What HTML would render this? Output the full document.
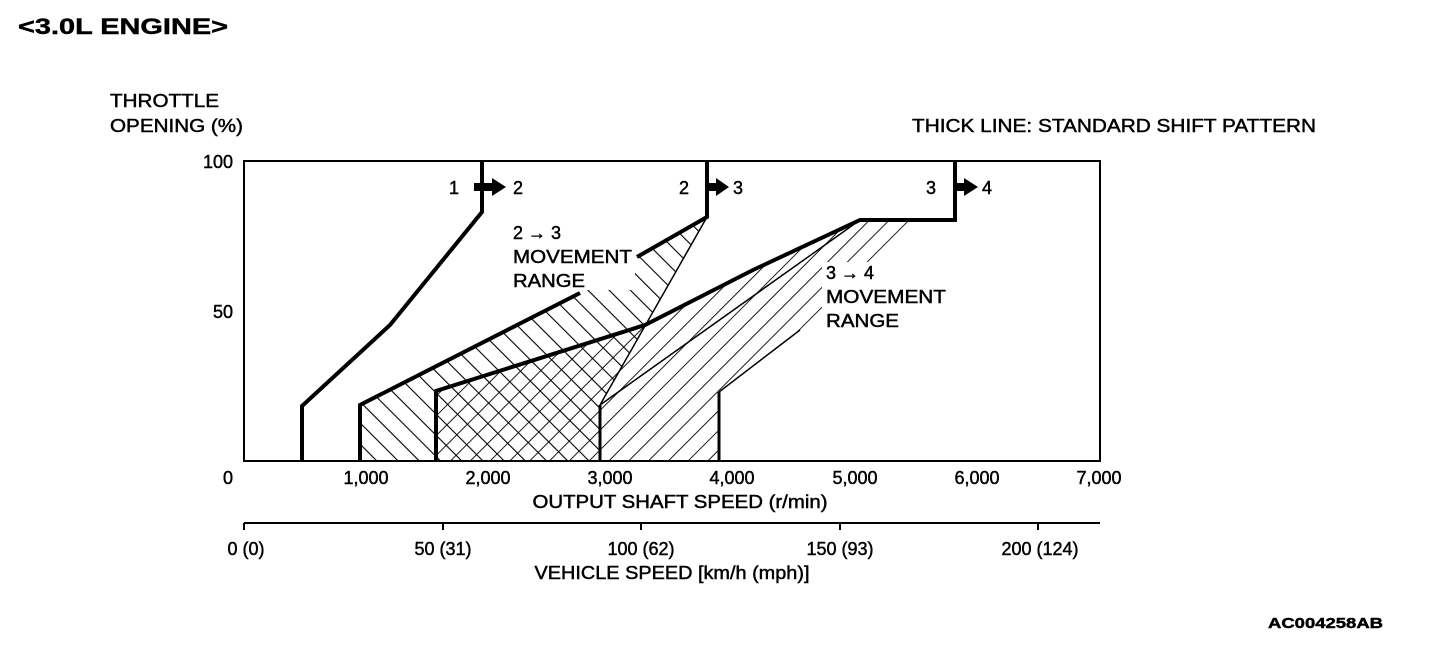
<!DOCTYPE html>
<html><head><meta charset="utf-8"><style>
html,body{margin:0;padding:0;background:#fff;}
svg{display:block;}
text{font-family:"Liberation Sans",Arial,sans-serif;fill:#000;stroke:#000;stroke-width:0.45;}
</style></head><body>
<svg width="1456" height="652" viewBox="0 0 1456 652" xmlns="http://www.w3.org/2000/svg">
<defs>
<pattern id="fs" patternUnits="userSpaceOnUse" width="14" height="14" patternTransform="rotate(45)">
<line x1="0" y1="0" x2="0" y2="14" stroke="#000" stroke-width="1.8"/></pattern>
<pattern id="bs" patternUnits="userSpaceOnUse" width="15" height="15" patternTransform="rotate(-45)">
<line x1="0" y1="0" x2="0" y2="15" stroke="#000" stroke-width="2.2"/></pattern>
</defs>
<text x="18" y="34" font-size="22" font-weight="bold" textLength="210" lengthAdjust="spacingAndGlyphs">&lt;3.0L ENGINE&gt;</text>
<text x="110" y="107" font-size="18" textLength="109" lengthAdjust="spacingAndGlyphs">THROTTLE</text>
<text x="110" y="132" font-size="18" textLength="133" lengthAdjust="spacingAndGlyphs">OPENING (%)</text>
<text x="912" y="132" font-size="18" textLength="404" lengthAdjust="spacingAndGlyphs">THICK LINE: STANDARD SHIFT PATTERN</text>

<!-- hatched regions -->
<polygon points="360,461 360,405 580,293 637,257 707,217 600,405 600,461" fill="url(#bs)"/>
<polygon points="436,461 436,391 645,325 753,270 860,220 910,220 800,330 719,392 719,461" fill="url(#fs)"/>
<rect x="505" y="215" width="130" height="75" fill="#fff"/>
<rect x="822" y="262" width="130" height="70" fill="#fff"/>
<polyline points="707,217 600,405" fill="none" stroke="#000" stroke-width="1.5"/>
<polyline points="600,405 860,220" fill="none" stroke="#000" stroke-width="1.5"/>
<polyline points="719,392 800,330" fill="none" stroke="#000" stroke-width="1.5"/>

<rect x="244" y="161" width="856" height="300" fill="none" stroke="#000" stroke-width="2"/>

<g fill="none" stroke="#000" stroke-width="4">
<polyline points="482,161 482,212 390,325 302,406 302,461"/>
<polyline points="707,161 707,217 637,257"/>
<polyline points="580,293 360,405 360,461"/>
<polyline points="436,461 436,391 645,325 753,270 860,220 955,220 955,161"/>
<line x1="600" y1="405" x2="600" y2="461" stroke-width="3"/>
<line x1="719" y1="392" x2="719" y2="461" stroke-width="3"/>
</g>

<g font-size="18">
<text x="449" y="194">1</text><text x="513" y="194">2</text>
<text x="679" y="194">2</text><text x="733" y="194">3</text>
<text x="926" y="194">3</text><text x="982" y="194">4</text>
</g>
<g fill="#000">
<polygon points="474,183 492,183 492,178 506,187 492,196 492,191 474,191"/>
<polygon points="708,183 716,183 716,178 729,187 716,196 716,191 708,191"/>
<polygon points="956,183 964,183 964,178 978,187 964,196 964,191 956,191"/>
</g>
<g font-size="18">
<text x="513" y="239">2 → 3</text>
<text x="513" y="263" textLength="119" lengthAdjust="spacingAndGlyphs">MOVEMENT</text>
<text x="513" y="287" textLength="72" lengthAdjust="spacingAndGlyphs">RANGE</text>
<text x="826" y="279">3 → 4</text>
<text x="826" y="303" textLength="120" lengthAdjust="spacingAndGlyphs">MOVEMENT</text>
<text x="826" y="327" textLength="73" lengthAdjust="spacingAndGlyphs">RANGE</text>
</g>

<g font-size="18" text-anchor="end">
<text x="233" y="168">100</text><text x="233" y="318">50</text><text x="233" y="484">0</text>
</g>
<g font-size="18" text-anchor="middle">
<text x="366" y="484">1,000</text><text x="488" y="484">2,000</text><text x="610" y="484">3,000</text>
<text x="732" y="484">4,000</text><text x="855" y="484">5,000</text><text x="977" y="484">6,000</text><text x="1099" y="484">7,000</text>
<text x="680" y="508" textLength="295" lengthAdjust="spacingAndGlyphs">OUTPUT SHAFT SPEED (r/min)</text>
</g>

<line x1="244" y1="523" x2="1100" y2="523" stroke="#000" stroke-width="2"/>
<g stroke="#000" stroke-width="2">
<line x1="244" y1="523" x2="244" y2="530"/><line x1="443" y1="523" x2="443" y2="530"/>
<line x1="641" y1="523" x2="641" y2="530"/><line x1="840" y1="523" x2="840" y2="530"/>
<line x1="1038" y1="523" x2="1038" y2="530"/>
</g>
<g font-size="18" text-anchor="middle">
<text x="246" y="555">0 (0)</text><text x="443" y="555">50 (31)</text><text x="641" y="555">100 (62)</text>
<text x="840" y="555">150 (93)</text><text x="1040" y="555">200 (124)</text>
<text x="672" y="579" textLength="275" lengthAdjust="spacingAndGlyphs">VEHICLE SPEED [km/h (mph)]</text>
</g>
<text x="1268" y="628" font-size="15" font-weight="bold" textLength="115" lengthAdjust="spacingAndGlyphs">AC004258AB</text>
</svg>
</body></html>
